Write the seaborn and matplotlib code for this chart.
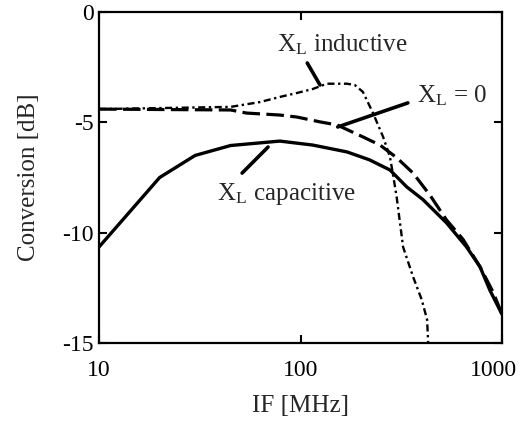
import matplotlib
matplotlib.use("Agg")
import matplotlib.pyplot as plt
import matplotlib.transforms as mtransforms
import seaborn as sns
import pandas as pd

# IF frequency sweep [MHz] and conversion gain [dB] for the three load reactances
freq_cap = [10, 20, 30, 45, 79, 115, 170, 220, 278, 337, 405, 531, 667, 778, 870, 1000]
conv_cap = [-10.65, -7.5, -6.5, -6.05, -5.85, -6.03, -6.34, -6.7, -7.16, -7.93,
            -8.5, -9.56, -10.65, -11.55, -12.6, -13.7]

freq_zero = [10, 45, 54, 79, 96, 125, 152, 204, 248, 300, 362, 439, 530, 640, 778, 904, 1000]
conv_zero = [-4.4, -4.44, -4.58, -4.67, -4.76, -4.98, -5.12, -5.66, -6.03, -6.6,
             -7.3, -8.3, -9.42, -10.3, -11.55, -12.7, -13.7]

freq_ind = [10, 45, 63, 79, 96, 115, 135, 170, 186, 204, 229, 257, 278, 287, 300,
            323, 362, 400, 425, 430]
conv_ind = [-4.4, -4.3, -4.08, -3.85, -3.67, -3.49, -3.25, -3.25, -3.31, -3.62,
            -4.58, -5.66, -6.57, -7.3, -8.38, -10.65, -12.0, -13.05, -13.95, -15.0]

x_ticks = [10, 100, 1000]
x_ticklabels = ["10", "100", "1000"]
y_ticks = [0, -5, -10, -15]
y_ticklabels = ["0", "-5", "-10", "-15"]

sns.set_theme(style="ticks")
plt.rcParams["font.family"] = ["Liberation Serif", "DejaVu Serif"]
plt.rcParams["mathtext.fontset"] = "stix"

fig = plt.figure(figsize=(5.22, 4.30), dpi=100)
ax = fig.add_axes([99 / 522, 1 - 343 / 430, (502 - 99) / 522, (343 - 12) / 430])

df_cap = pd.DataFrame({"f": freq_cap, "c": conv_cap})
df_zero = pd.DataFrame({"f": freq_zero, "c": conv_zero})
df_ind = pd.DataFrame({"f": freq_ind, "c": conv_ind})

sns.lineplot(data=df_ind, x="f", y="c", ax=ax, color="black", lw=1.7,
             linestyle=(0, (3, 1.5, 1, 1.5)))
sns.lineplot(data=df_zero, x="f", y="c", ax=ax, color="black", lw=2.3,
             linestyle=(0, (5.5, 2)))
sns.lineplot(data=df_cap, x="f", y="c", ax=ax, color="black", lw=2.4)

ax.set_xscale("log")
ax.set_xlim(10, 1000)
ax.set_ylim(-15, 0)
ax.set_xticks(x_ticks)
ax.set_xticklabels(x_ticklabels)
ax.set_yticks(y_ticks)
ax.set_yticklabels(y_ticklabels)
ax.minorticks_off()
ax.tick_params(axis="both", which="major", direction="in", length=6, width=1.5,
               top=True, right=True, labelsize=17, colors="black")
ax.tick_params(axis="x", pad=12)
ax.tick_params(axis="y", pad=4)
for s in ax.spines.values():
    s.set_linewidth(1.6)
    s.set_color("black")

# keep the rightmost frequency label inside the figure
last = ax.get_xticklabels()[-1]
last.set_transform(last.get_transform() +
                   mtransforms.ScaledTranslation(-6 / 72, 0, fig.dpi_scale_trans))

ax.set_xlabel("IF [MHz]", fontsize=18, labelpad=10)
ax.set_ylabel("Conversion [dB]", fontsize=18, labelpad=16)

# curve labels with leader lines
lead = dict(arrowstyle="-", lw=2.6, color="black", shrinkA=0, shrinkB=0)
ax.annotate("", xy=(125, -3.31), xytext=(108, -2.31), arrowprops=lead)
ax.annotate("", xy=(153, -5.21), xytext=(341, -4.12), arrowprops=lead)
ax.annotate("", xy=(69, -6.12), xytext=(51.3, -7.3), arrowprops=lead)

ax.text(76.4, -1.81, r"X$_\mathregular{L}$ inductive", fontsize=18,
        ha="left", va="baseline")
ax.text(378, -4.12, r"X$_\mathregular{L}$ = 0", fontsize=18,
        ha="left", va="baseline")
ax.text(38.5, -8.52, r"X$_\mathregular{L}$ capacitive", fontsize=18,
        ha="left", va="baseline")

fig.savefig("out.png", dpi=100, facecolor="white")
